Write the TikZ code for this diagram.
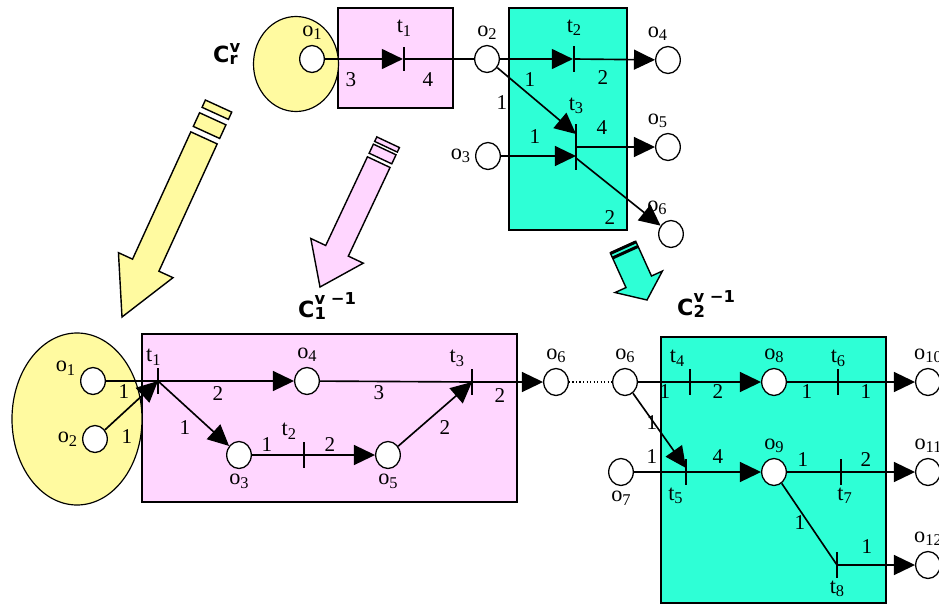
\documentclass[tikz,border=0pt]{standalone}
\usepackage{fontspec}
\setmainfont{Liberation Serif}
\newfontfamily\cfont{DejaVu Sans}
\usetikzlibrary{shapes.geometric, arrows.meta, calc}
\definecolor{ylw}{HTML}{FFFAA0}
\definecolor{pnk}{HTML}{FFD6FF}
\definecolor{aqu}{HTML}{2EFFD6}
\newcommand{\sbs}[1]{\raisebox{-3pt}{\fontsize{14}{14}\selectfont #1}}
\newcommand{\pl}[1]{o\sbs{#1}}
\newcommand{\tr}[1]{t\sbs{#1}}
\newcommand{\cname}[2]{C\raisebox{-2.5pt}{\fontsize{14}{10.2}\selectfont
  \shortstack[l]{#1\\#2}}}
\tikzset{
  place/.style  = {ellipse, draw, line width=1.1pt, fill=white,
                   minimum width=21pt, minimum height=23pt, inner sep=0pt},
  trans/.style  = {rectangle, fill=black, minimum width=1.4pt,
                   minimum height=#1, inner sep=0pt},
  trans/.default= 22pt,
  arc/.style    = {line width=1.4pt, -{Triangle[length=18pt, width=17pt]}},
  lnk/.style    = {line width=1.4pt},
  comp/.style   = {draw, line width=1.2pt, fill=#1},
  grp/.style    = {ellipse, draw, line width=1pt, fill=ylw, inner sep=0pt},
  wt/.style     = {font=\fontsize{18}{20}\selectfont, inner sep=0pt},
  lbl/.style    = {font=\fontsize{19}{21}\selectfont, inner sep=1pt},
  cfam/.style   = {font=\cfont\bfseries\fontsize{19}{22}\selectfont,
                   inner sep=0pt, anchor=base west},
  barrow/.style = {draw, line width=1.2pt, fill=#1, line join=miter},
}
\begin{document}
\begin{tikzpicture}[x=0.03cm, y=-0.03cm, label distance=3pt]
  \useasboundingbox (0,0) rectangle (939,606);

  % ── components
  \draw[comp=pnk] (338,8)   rectangle (453,108);
  \draw[comp=aqu] (509,8)   rectangle (627,230);
  \draw[comp=pnk] (142,334) rectangle (517,502);
  \draw[comp=aqu] (661,337) rectangle (886,603);

  % ── initial groups
  \node[grp, minimum width=2.55cm, minimum height=2.85cm] (gtop) at (296,64)  {};
  \node[grp, minimum width=3.9cm,  minimum height=5.16cm] (gbot) at (77,419)  {};

  % ── block arrows
  \begin{scope}[shift={(122,317)}, rotate=-114.6]
    \filldraw[barrow=ylw] (0,0) -- (-57,30) -- (-57,14.5) -- (-197,14.5)
      -- (-197,-14.5) -- (-57,-14.5) -- (-57,-30) -- cycle;
    \filldraw[barrow=ylw] (-203,-14.5) rectangle (-218,14.5);
    \filldraw[barrow=ylw] (-224,-14.5) rectangle (-232,14.5);
  \end{scope}
  \begin{scope}[shift={(320,287)}, rotate=-115.2]
    \filldraw[barrow=pnk] (0,0) -- (-40,29) -- (-40,12.5) -- (-138,12.5)
      -- (-138,-12.5) -- (-40,-12.5) -- (-40,-29) -- cycle;
    \filldraw[barrow=pnk] (-142,-12.5) rectangle (-152,12.5);
    \filldraw[barrow=pnk] (-155,-12.5) rectangle (-160,12.5);
  \end{scope}
  \begin{scope}[shift={(647,300)}, rotate=-65.6]
    \filldraw[barrow=aqu] (0,0) -- (-20,26) -- (-20,14) -- (-58,14)
      -- (-58,-14) -- (-20,-14) -- (-20,-26) -- cycle;
    \fill (-51,-14) rectangle (-54,14);
    \fill (-56,-14) rectangle (-59,14);
  \end{scope}

  % ── component names
  \node[cfam] (cr) at (213,62)  {\cname{v}{r}};
  \node[cfam] (c1) at (298,317) {\cname{v −1}{1}};
  \node[cfam] (c2) at (677,315) {\cname{v −1}{2}};

  % ── top net
  \node[place, label={[lbl]above:\pl{1}}]                     (po1) at (312,59)  {};
  \node[place, label={[lbl]above:\pl{2}}]                     (po2) at (487,59)  {};
  \node[place, label={[lbl]left:\pl{3}}]                      (po3) at (488,156) {};
  \node[place, label={[lbl, xshift=-9pt]above:\pl{4}}]        (po4) at (668,60)  {};
  \node[place, label={[lbl, xshift=-9pt]above:\pl{5}}]        (po5) at (668,147) {};
  \node[place, label={[lbl, xshift=-12pt]above:\pl{6}}]       (po6) at (671,234) {};
  \node[trans=20pt, label={[lbl, label distance=8pt]above:\tr{1}}] (ta1) at (404,59)  {};
  \node[trans=23pt, label={[lbl, label distance=7pt]above:\tr{2}}] (ta2) at (574,59)  {};
  \node[trans=40pt, label={[lbl, label distance=7pt]above:\tr{3}}] (ta3) at (576,147) {};

  \draw[arc] (po1) -- (ta1);
  \draw[lnk] (ta1) -- (po2);
  \draw[arc] (po2) -- (ta2);
  \draw[arc] (ta2) -- (po4);
  \draw[arc] (po2) -- ($(ta3.center)+(0,-13)$);
  \draw[arc] (po3) -- (po3 -| ta3);
  \draw[arc] (ta3) -- (po5);
  \draw[arc] ($(ta3.center)+(0,11)$) -- (po6);

  % ── bottom left net
  \node[place, label={[lbl, yshift=11pt]left:\pl{1}}]         (pb1) at (93,381)  {};
  \node[place, label={[lbl]left:\pl{2}}]                      (pb2) at (95,439)  {};
  \node[place, label={[lbl]below:\pl{3}}]                     (pb3) at (239,455) {};
  \node[place, label={[lbl]above:\pl{4}}]                     (pb4) at (307,381) {};
  \node[place, label={[lbl]below:\pl{5}}]                     (pb5) at (388,455) {};
  \node[place, label={[lbl]above:\pl{6}}]                     (pb6) at (556,382) {};
  \node[trans, label={[lbl, xshift=-4pt, label distance=1pt]above:\tr{1}}]  (tb1) at (158,381) {};
  \node[trans, label={[lbl, xshift=-13pt, label distance=1pt]above:\tr{2}}] (tb2) at (304,455) {};
  \node[trans, label={[lbl, xshift=-13pt, label distance=1pt]above:\tr{3}}] (tb3) at (472,382) {};

  \draw[lnk] (pb1) -- (tb1);
  \draw[arc] (pb2) -- (tb1.center);
  \draw[arc] (tb1) -- (pb4);
  \draw[arc] (tb1) -- (pb3);
  \draw[lnk] (pb3) -- (tb2);
  \draw[arc] (tb2) -- (pb5);
  \draw[arc] (pb5) -- (tb3.center);
  \draw[lnk] (pb4) -- (tb3);
  \draw[arc] (tb3) -- (pb6);

  % ── bottom right net
  \node[place, label={[lbl]above:\pl{6}}]                     (pc6)  at (625,382) {};
  \node[place, label={[lbl]below:\pl{7}}]                     (pc7)  at (621,472) {};
  \node[place, label={[lbl]above:\pl{8}}]                     (pc8)  at (774,382) {};
  \node[place, label={[lbl]above:\pl{9}}]                     (pc9)  at (774,472) {};
  \node[place, label={[lbl]above:\pl{10}}]                    (pc10) at (928,382) {};
  \node[place, label={[lbl]above:\pl{11}}]                    (pc11) at (928,472) {};
  \node[place, label={[lbl]above:\pl{12}}]                    (pc12) at (928,565) {};
  \node[trans, label={[lbl, xshift=-11pt, label distance=1pt]above:\tr{4}}] (tc4) at (690,382) {};
  \node[trans, label={[lbl, xshift=-9pt, label distance=1pt]below:\tr{5}}]  (tc5) at (686,472) {};
  \node[trans, label={[lbl, label distance=1pt]above:\tr{6}}]               (tc6) at (838,382) {};
  \node[trans, label={[lbl, xshift=3pt, label distance=1pt]below:\tr{7}}]   (tc7) at (841,472) {};
  \node[trans, label={[lbl, label distance=1pt]below:\tr{8}}]               (tc8) at (837,565) {};

  \draw[dotted, line width=1pt] (pb6) -- (pc6);
  \draw[lnk] (pc6) -- (tc4);
  \draw[arc] (tc4) -- (pc8);
  \draw[lnk] (pc8) -- (tc6);
  \draw[arc] (tc6) -- (pc10);
  \draw[arc] (pc6) -- ($(tc5.center)+(0,-4)$);
  \draw[lnk] (pc7) -- (tc5);
  \draw[arc] (tc5) -- (pc9);
  \draw[lnk] (pc9) -- (tc7);
  \draw[arc] (tc7) -- (pc11);
  \draw[lnk] (pc9) -- (tc8.center);
  \draw[arc] (tc8) -- (pc12);

  % ── arc weights
  \foreach \x/\y/\t [count=\i] in {351/80/3, 428/80/4, 530/80/1, 603/78/2,
      502/103/1, 602/128/4, 535/137/1, 610/218/2,
      124/392/1, 127/437/1, 218/394/2, 185/428/1, 267/445/1, 330/445/2,
      445/428/2, 379/393/3, 500/396/2,
      665/392/1, 718/392/2, 807/392/1, 866/392/1, 652/423/1, 652/457/1,
      718/457/4, 803/460/1, 866/460/2, 800/523/1, 867/547/1}
    \node[wt] (w\i) at (\x,\y) {\t};

\end{tikzpicture}
\end{document}
